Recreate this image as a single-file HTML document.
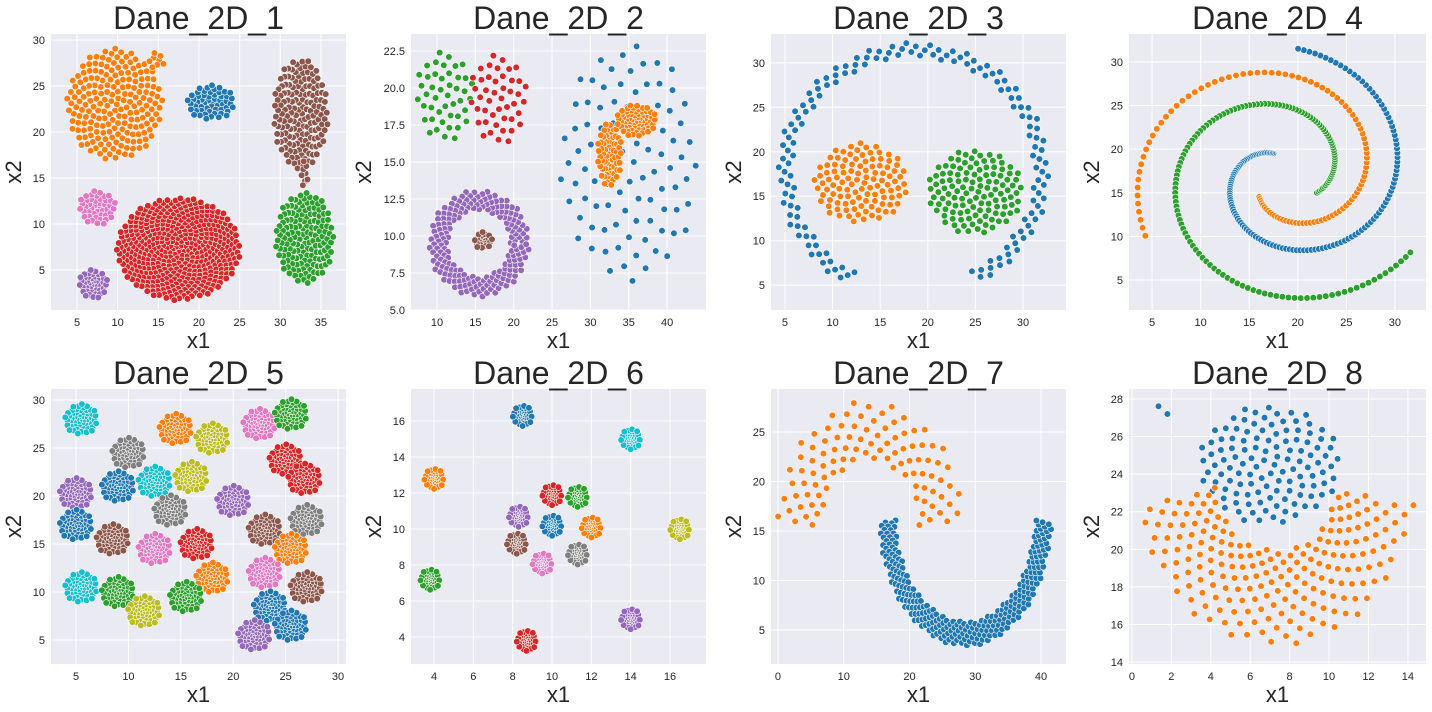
<!DOCTYPE html>
<html><head><meta charset="utf-8"><style>
body{margin:0;background:#fff;}
svg{display:block;font-family:"Liberation Sans","DejaVu Sans",sans-serif;}
</style></head><body>
<svg id="fig" width="1432" height="712" viewBox="0 0 1432 712"></svg>
<script>
// ---- data (cluster models in data units) ----
const TAB = {blue:"#1f77b4",orange:"#ff7f0e",green:"#2ca02c",red:"#d62728",purple:"#9467bd",brown:"#8c564b",pink:"#e377c2",gray:"#7f7f7f",olive:"#bcbd22",cyan:"#17becf"};
const titles = ["Dane_2D_1","Dane_2D_2","Dane_2D_3","Dane_2D_4","Dane_2D_5","Dane_2D_6","Dane_2D_7","Dane_2D_8"];
const xTicks = [[5,10,15,20,25,30,35],[10,15,20,25,30,35,40],[5,10,15,20,25,30],[5,10,15,20,25,30],[5,10,15,20,25,30],[4,6,8,10,12,14,16],[0,10,20,30,40],[0,2,4,6,8,10,12,14]];
const yTicks = [[5,10,15,20,25,30],[5,7.5,10,12.5,15,17.5,20,22.5],[5,10,15,20,25,30],[5,10,15,20,25,30],[5,10,15,20,25,30],[4,6,8,10,12,14,16],[5,10,15,20,25],[14,16,18,20,22,24,26,28]];
const xDomains = [[1.80,38.09],[6.61,45.07],[3.53,34.52],[2.62,33.2],[2.61,30.76],[2.83,17.83],[-1.06,43.8],[-0.15,14.92]];
const yDomains = [[0.65,30.65],[5.0,23.65],[2.21,33.24],[1.56,33.2],[2.5,31.15],[2.5,17.78],[1.57,29.34],[13.9,28.53]];
// blob: [type, color, cx, cy, rx, ry, n]
// arc: ["arc", color, cx, cy, rx, ry, a0deg, a1deg, inner, outer, n]
// spiral: ["spiral", color, cx, cy, th0deg, th1deg, r0, r1, n]
const clusters1 = [
 ["blob","orange",9.6,23,5.9,6.1,200],["blob","orange",14.8,27.8,1.2,0.9,8],["blob","blue",21.5,23.2,3,1.9,55],
 ["blob","brown",32.5,22,3.4,6,160],["blob","brown",33,15.5,0.5,1.5,8],
 ["blob","green",33,8.5,3.6,5,150],["blob","pink",7.5,11.8,2.3,1.9,45],
 ["blob","purple",7,3.5,1.8,1.6,45],["blob","red",17.5,7.3,7.6,5.6,450]];
const clusters2 = [
 ["blob","green",11,19.5,3.8,3.1,45],["blob","red",18,19.3,3.8,3.1,45],
 ["blob","blue",35,15,9,8.2,95],
 ["blob","orange",32.5,15.5,1.6,2.2,65],["blob","orange",36,17.8,2.6,1.1,65],
 ["arc","purple",15.5,9.5,6.6,3.6,0,360,0.62,1.0,190],
 ["blob","brown",16,9.7,1.2,0.6,22]];
const clusters3 = [
 ["arc","blue",18.5,17.8,13.6,13.8,-62,242,0.93,1.05,150],
 ["blob","orange",13,16.5,5,4.5,110],["blob","green",25,15.5,5,4.8,120]];
const clusters4 = [
 ["spiral","blue",18.5,17,112,444,2.7,14.6,140],
 ["spiral","orange",18.5,17,225,566,3.5,15.8,100],
 ["spiral","green",18.5,17,330,686,4,15.8,140]];
const clusters5 = [
 ["cyan",5.5,28],["orange",14.5,27],["olive",18,26],["pink",22.5,27.5],["green",25.5,28.5],
 ["gray",10,24.5],["red",25,23.8],["red",26.8,21.8],["olive",16,22],["cyan",12.5,21.5],["blue",9,21],
 ["purple",5,20.3],["purple",20,19.5],["gray",14,18.5],["gray",27,17.5],["blue",5,17],
 ["brown",8.5,15.5],["pink",12.5,14.5],["red",16.5,15],["brown",23,16.5],["orange",25.5,14.5],
 ["pink",23,12],["orange",18,11.5],["brown",27,10.5],["cyan",5.5,10.5],["green",9,10],
 ["olive",11.5,8],["green",15.5,9.5],["blue",23.5,8.5],["blue",25.5,6.5],["purple",22,5.5]
].map(c=>["blob",c[0],c[1],c[2],1.6,1.6,55]);
const clusters6 = [
 ["blue",8.5,16.3],["cyan",14,15],["orange",4,12.8],["red",10,11.9],["green",11.3,11.8],
 ["purple",8.3,10.7],["blue",10,10.2],["orange",12,10.1],["olive",16.5,10],["brown",8.2,9.2],
 ["gray",11.3,8.6],["pink",9.5,8.1],["green",3.8,7.2],["purple",14,5],["red",8.7,3.8]
].map(c=>["blob",c[0],c[1],c[2],0.5,0.6,40]);
const clusters7 = [
 ["arc","orange",14,15.5,12.5,11,0,180,0.6,1.15,100],
 ["arc","blue",28.5,16.5,12.5,12.5,182,358,0.85,1.05,260]];
const clusters8 = [
 ["blob","blue",7,24.5,3.6,3.2,120],["blob","blue",1.6,27.2,0.4,0.7,2],
 ["arc","orange",7.3,24,7,9,190,350,0.45,1.02,200]];
const allClusters = [clusters1,clusters2,clusters3,clusters4,clusters5,clusters6,clusters7,clusters8];

// ---- layout ----
const colL=[51,411,771,1129], colR=[346,706,1066,1426];
const rowT=[34,389], rowB=[310,664];
const NS="http://www.w3.org/2000/svg";
const svg=document.getElementById("fig");
function mk(tag,attrs,parent){const e=document.createElementNS(NS,tag);for(const k in attrs)e.setAttribute(k,attrs[k]);(parent||svg).appendChild(e);return e;}

function genPoints(c){
  const pts=[];const G=2.399963;
  if(c[0]==="blob"){const[,,cx,cy,rx,ry,n]=c;
    for(let i=0;i<n;i++){const r=Math.sqrt((i+0.5)/n),a=i*G;pts.push([cx+rx*r*Math.cos(a),cy+ry*r*Math.sin(a)]);}}
  else if(c[0]==="arc"){const[,,cx,cy,rx,ry,a0,a1,ri,ro,n]=c;
    for(let i=0;i<n;i++){const t=(i+0.5)/n,a=(a0+(a1-a0)*t)*Math.PI/180;const s=ri+(ro-ri)*((i*0.618034)%1);
      pts.push([cx+rx*s*Math.cos(a),cy+ry*s*Math.sin(a)]);}}
  else if(c[0]==="spiral"){const[,,cx,cy,t0,t1,r0,r1,n]=c;
    for(let i=0;i<n;i++){const t=i/(n-1),a=(t0+(t1-t0)*t)*Math.PI/180,r=r0+(r1-r0)*t;
      pts.push([cx+r*Math.cos(a),cy+r*Math.sin(a)]);}}
  return pts;
}

for(let p=0;p<8;p++){
  const col=p%4,row=Math.floor(p/4);
  const L=colL[col],R=colR[col],T=rowT[row],B=rowB[row];
  const [x0,x1]=xDomains[p],[y0,y1]=yDomains[p];
  const sx=v=>L+(v-x0)/(x1-x0)*(R-L), sy=v=>B-(v-y0)/(y1-y0)*(B-T);
  const g=mk("g",{});
  
  
  const bg=mk("rect",{x:L,y:T,width:R-L,height:B-T,fill:"#eaeaf2"},g);
  
  
  xTicks[p].forEach(v=>{const X=sx(v);
    mk("line",{x1:X,x2:X,y1:T,y2:B,stroke:"#fff","stroke-width":1},g);
    const t=mk("text",{x:X,y:B+16,"font-size":11,fill:"#262626","text-anchor":"middle"},g);t.textContent=v;
    
    });
  const dec=p===1;
  yTicks[p].forEach(v=>{const Y=sy(v);
    mk("line",{x1:L,x2:R,y1:Y,y2:Y,stroke:"#fff","stroke-width":1},g);
    const t=mk("text",{x:L-6,y:Y+4,"font-size":11,fill:"#262626","text-anchor":"end"},g);t.textContent=dec?v.toFixed(1):v;
    
    });
  allClusters[p].forEach(c=>{
    genPoints(c).forEach(pt=>{
      const X=sx(pt[0]),Y=sy(pt[1]);
      if(X<L||X>R||Y<T||Y>B)return;
      const d=mk("circle",{cx:X.toFixed(1),cy:Y.toFixed(1),r:3.3,fill:TAB[c[1]],stroke:"#fff","stroke-width":0.6},g);
      
      
    });
  });
  const tt=mk("text",{x:(L+R)/2,y:T-5,"font-size":32,fill:"#262626","text-anchor":"middle"},g);tt.textContent=titles[p];
  
  
  const xl=mk("text",{x:(L+R)/2,y:B+38,"font-size":22,fill:"#262626","text-anchor":"middle"},g);xl.textContent="x1";
  
  
  const yx=L-(dec?40:30), yy=(T+B)/2;
  const yl=mk("text",{x:yx,y:yy,"font-size":22,fill:"#262626","text-anchor":"middle",transform:`rotate(-90 ${yx} ${yy})`},g);yl.textContent="x2";
  
  
}
</script>
</body></html>
